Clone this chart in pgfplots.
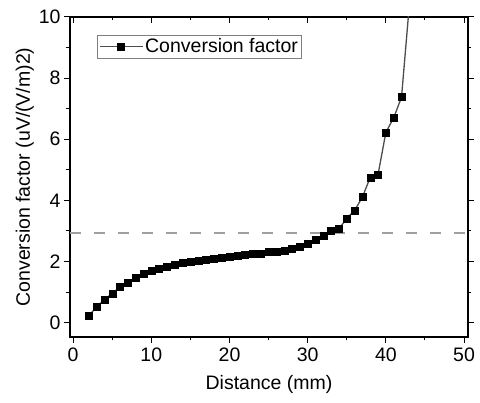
\documentclass[border=0pt]{standalone}
\usepackage{pgfplots}
\pgfplotsset{compat=1.18}
\usepackage{pgfplotstable}
\usepackage{fontspec}
\setmainfont{Liberation Sans}

\pgfplotstableread{
x y
2 0.23
3 0.51
4 0.75
5 0.96
6 1.16
7 1.32
8 1.47
9 1.59
10 1.69
11 1.77
12 1.83
13 1.89
14 1.95
15 2.00
16 2.03
17 2.07
18 2.10
19 2.13
20 2.15
21 2.19
22 2.21
23 2.24
24 2.27
25 2.33
26 2.33
27 2.35
28 2.41
29 2.48
30 2.57
31 2.70
32 2.83
33 3.02
34 3.07
35 3.41
36 3.67
37 4.11
38 4.75
39 4.85
40 6.23
41 6.70
42 7.38
43 10.4
}\convtable

\begin{document}
\begin{tikzpicture}
\useasboundingbox (-70pt,-66pt) rectangle (410pt,337pt);
\begin{axis}[
    at={(0,0)}, anchor=south west,
    width=398pt, height=320pt, scale only axis,
    xmin=-0.4, xmax=50.5, ymin=-0.47, ymax=10,
    xtick={0,10,...,50}, minor x tick num=1,
    ytick={0,2,...,10}, minor y tick num=1,
    xtick pos=left, ytick pos=both,
    tick align=outside,
    major tick length=6pt, minor tick length=3.5pt,
    tick style={line width=1pt, black},
    axis line style={line width=1.3pt, black},
    /pgf/number format/assume math mode=true,
    ticklabel style={font=\fontsize{19.5}{22}\selectfont},
    label style={font=\fontsize{19.5}{22}\selectfont},
    xticklabel style={yshift=-1pt},
    xlabel={Distance (mm)},
    xlabel style={yshift=-7pt},
    ylabel={Conversion factor (uV/(V/m)2)},
    ylabel style={yshift=-2pt},
    legend cell align=left,
    legend style={at={(0.068,0.944)}, anchor=north west, draw=gray, line width=0.6pt,
        font=\fontsize{19.5}{22}\selectfont, inner sep=1.5pt},
  ]
  \addplot[gray!75, line width=2.6pt, dash pattern=on 11pt off 13pt, forget plot]
    coordinates {(-0.4,2.93) (50.5,2.93)};
  \addplot[black!70, line width=1.3pt, forget plot] table[x=x, y=y] {\convtable};
  \addplot[only marks, mark=square*, mark size=3.5pt, mark options={fill=black, draw=black},
    restrict x to domain=0:42.5,
    legend image code/.code={
      \draw[black!70, line width=1.3pt] (0pt,0pt) -- (43pt,0pt);
      \fill[black] (21.5pt,0pt) +(-3.5pt,-3.5pt) rectangle +(3.5pt,3.5pt);
    }] table[x=x, y=y] {\convtable};
  \addlegendentry{Conversion factor}
\end{axis}
\begin{axis}[
    at={(0,0)}, anchor=south west,
    width=398pt, height=320pt, scale only axis,
    xmin=-0.4, xmax=50.5, ymin=-0.47, ymax=10,
    xtick={0,10,...,50}, minor x tick num=1,
    xtick pos=right, xticklabels={}, ytick=\empty,
    tick align=inside,
    major tick length=6pt, minor tick length=3.5pt,
    tick style={line width=1pt, black},
    axis line style={draw=none},
  ]
\end{axis}
\end{tikzpicture}
\end{document}
